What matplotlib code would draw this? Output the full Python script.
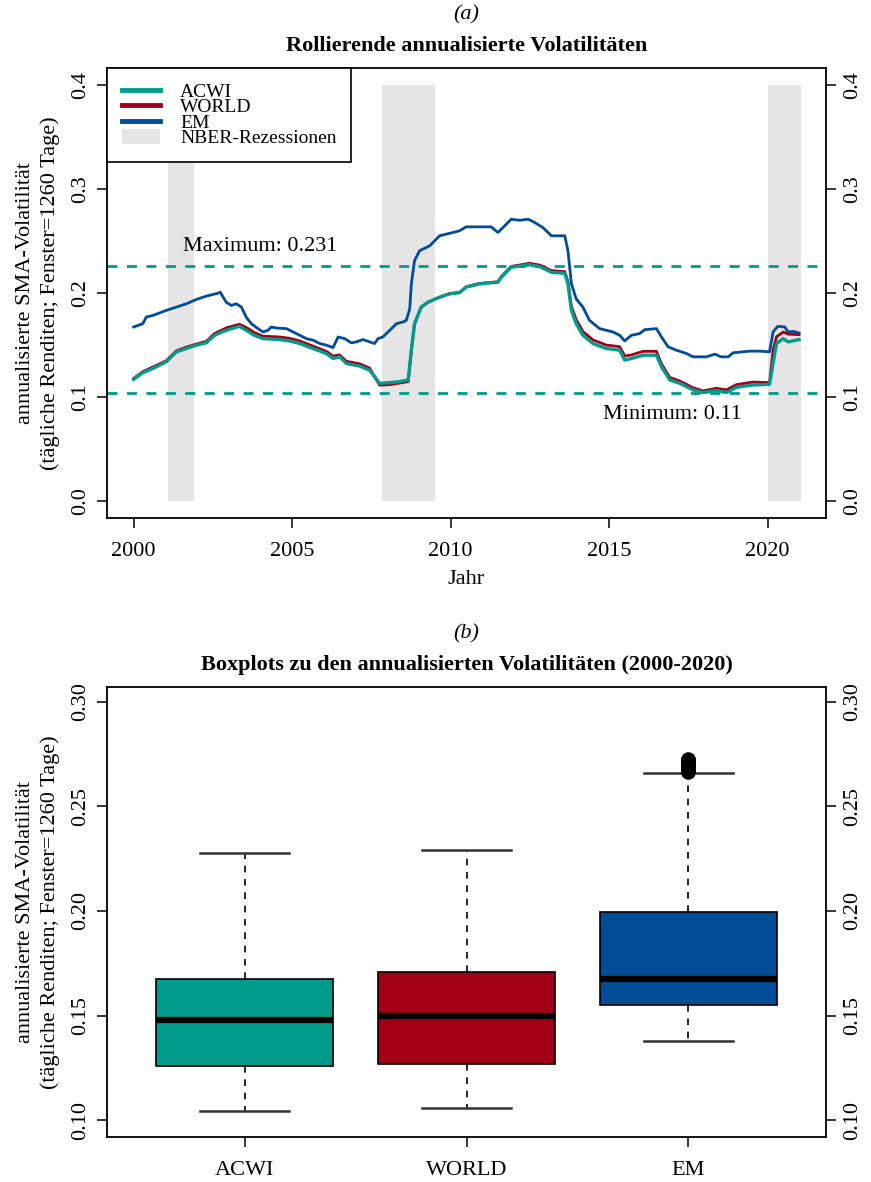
import numpy as np
import matplotlib
matplotlib.use("Agg")
import matplotlib.pyplot as plt
from matplotlib.lines import Line2D
from matplotlib.patches import Patch

plt.rcParams['font.family'] = ['Liberation Serif', 'DejaVu Serif']

# ---------------- data ----------------
EM_YEARS = [2000.0, 2000.29, 2000.40, 2000.61, 2001.03, 2001.35, 2001.66, 2001.98, 2002.29, 2002.66,
            2002.73, 2002.92, 2003.08, 2003.24, 2003.40, 2003.55, 2003.71, 2003.92, 2004.08, 2004.24,
            2004.34, 2004.50, 2004.82, 2005.03, 2005.24, 2005.45, 2005.66, 2005.87, 2006.08, 2006.29,
            2006.45, 2006.66, 2006.87, 2007.03, 2007.23, 2007.44, 2007.60, 2007.71, 2007.86, 2008.08,
            2008.29, 2008.50, 2008.60, 2008.71, 2008.76, 2008.86, 2009.02, 2009.34, 2009.65, 2010.07,
            2010.28, 2010.49, 2011.28, 2011.49, 2011.65, 2011.91, 2012.18, 2012.44, 2012.60, 2012.91,
            2013.18, 2013.60, 2013.70, 2013.81, 2013.96, 2014.17, 2014.38, 2014.70, 2015.12, 2015.33,
            2015.49, 2015.70, 2015.96, 2016.12, 2016.49, 2016.65, 2016.86, 2017.12, 2017.44, 2017.65,
            2018.07, 2018.33, 2018.54, 2018.75, 2018.91, 2019.43, 2019.75, 2020.06, 2020.17, 2020.32,
            2020.54, 2020.64, 2020.80, 2020.99]
EM = [0.1674, 0.1706, 0.1769, 0.1785, 0.1833, 0.1865, 0.1896, 0.1938, 0.1970, 0.1998,
      0.2008, 0.1912, 0.1881, 0.1896, 0.1865, 0.1769, 0.1706, 0.1658, 0.1626, 0.1642,
      0.1674, 0.1664, 0.1658, 0.1626, 0.1594, 0.1562, 0.1547, 0.1515, 0.1499, 0.1476,
      0.1578, 0.1562, 0.1521, 0.1531, 0.1553, 0.1531, 0.1515, 0.1562, 0.1578, 0.1642,
      0.1706, 0.1722, 0.1737, 0.1849, 0.2088, 0.2310, 0.2406, 0.2453, 0.2549, 0.2581,
      0.2597, 0.2635, 0.2635, 0.2581, 0.2628, 0.2708, 0.2698, 0.2708, 0.2686, 0.2628,
      0.2549, 0.2549, 0.2406, 0.2088, 0.1944, 0.1865, 0.1737, 0.1658, 0.1626, 0.1594,
      0.1540, 0.1594, 0.1610, 0.1648, 0.1658, 0.1578, 0.1483, 0.1451, 0.1419, 0.1387,
      0.1387, 0.1413, 0.1387, 0.1387, 0.1426, 0.1442, 0.1442, 0.1435, 0.1626, 0.1680,
      0.1674, 0.1626, 0.1632, 0.1616]

DM_YEARS = [2000.0, 2000.29, 2000.61, 2001.03, 2001.35, 2001.66, 2001.98, 2002.29, 2002.55, 2002.92,
            2003.34, 2003.55, 2003.81, 2004.08, 2004.60, 2004.92, 2005.24, 2005.66, 2006.08, 2006.29,
            2006.50, 2006.71, 2007.13, 2007.44, 2007.76, 2008.08, 2008.39, 2008.66, 2008.76, 2008.86,
            2009.07, 2009.28, 2009.65, 2009.97, 2010.28, 2010.49, 2010.91, 2011.49, 2011.60, 2011.91,
            2012.49, 2012.81, 2013.18, 2013.60, 2013.70, 2013.81, 2013.96, 2014.17, 2014.49, 2014.91,
            2015.33, 2015.49, 2015.70, 2016.07, 2016.49, 2016.65, 2016.91, 2017.23, 2017.65, 2017.96,
            2018.38, 2018.70, 2019.01, 2019.54, 2020.06, 2020.17, 2020.28, 2020.49, 2020.64, 2020.99]
ACWI = [0.1171, 0.1235, 0.1276, 0.1340, 0.1435, 0.1467, 0.1499, 0.1521, 0.1594, 0.1642,
        0.1680, 0.1642, 0.1594, 0.1562, 0.1553, 0.1540, 0.1515, 0.1467, 0.1419, 0.1371,
        0.1387, 0.1324, 0.1298, 0.1260, 0.1133, 0.1139, 0.1149, 0.1165, 0.1451, 0.1706,
        0.1865, 0.1912, 0.1960, 0.1992, 0.2003, 0.2056, 0.2088, 0.2104, 0.2151, 0.2247,
        0.2272, 0.2253, 0.2199, 0.2189, 0.2088, 0.1833, 0.1706, 0.1594, 0.1515, 0.1467,
        0.1451, 0.1356, 0.1371, 0.1403, 0.1403, 0.1292, 0.1165, 0.1133, 0.1069, 0.1044,
        0.1063, 0.1044, 0.1095, 0.1117, 0.1123, 0.1324, 0.1515, 0.1562, 0.1531, 0.1553]
WORLD = [0.1180, 0.1245, 0.1290, 0.1350, 0.1445, 0.1480, 0.1510, 0.1535, 0.1610, 0.1665,
         0.1700, 0.1670, 0.1620, 0.1585, 0.1578, 0.1565, 0.1540, 0.1490, 0.1440, 0.1395,
         0.1405, 0.1345, 0.1320, 0.1280, 0.1115, 0.1120, 0.1135, 0.1150, 0.1440, 0.1700,
         0.1860, 0.1910, 0.1960, 0.1995, 0.2005, 0.2060, 0.2092, 0.2108, 0.2158, 0.2255,
         0.2285, 0.2268, 0.2215, 0.2205, 0.2110, 0.1870, 0.1745, 0.1630, 0.1550, 0.1500,
         0.1485, 0.1395, 0.1405, 0.1440, 0.1440, 0.1320, 0.1190, 0.1155, 0.1090, 0.1060,
         0.1085, 0.1070, 0.1120, 0.1145, 0.1140, 0.1450, 0.1580, 0.1625, 0.1605, 0.1600]

RECESSIONS = [(2001.08, 2001.92), (2007.83, 2009.52), (2020.00, 2021.05)]
MAX_LINE = 0.2264
MIN_LINE = 0.1036
MAX_LABEL = "Maximum: 0.231"
MIN_LABEL = "Minimum: 0.11"

BOX_NAMES = ["ACWI", "WORLD", "EM"]
BOX_WHISLO = [0.1043, 0.1057, 0.1380]
BOX_Q1 = [0.1258, 0.1271, 0.1553]
BOX_MED = [0.1477, 0.1500, 0.1676]
BOX_Q3 = [0.1676, 0.1706, 0.1996]
BOX_WHISHI = [0.2276, 0.2292, 0.2659]
EM_OUTLIERS = [0.2663, 0.2667, 0.2671, 0.2675, 0.2679, 0.2683, 0.2687, 0.2691, 0.2695,
               0.2699, 0.2703, 0.2707, 0.2711, 0.2715, 0.2719, 0.2723, 0.2727]

COLORS = {"ACWI": "#009B8A", "WORLD": "#A20016", "EM": "#004C97"}
GRAY = "#E5E5E5"

# ---------------- figure ----------------
W, H = 871, 1182
fig = plt.figure(figsize=(W / 100, H / 100), dpi=100)
ax1 = fig.add_axes([107 / W, 1 - 518 / H, (826 - 107) / W, (518 - 68) / H])
ax2 = fig.add_axes([107 / W, 1 - 1137 / H, (826 - 107) / W, (1137 - 687) / H])

FS = 16
YLAB = "annualisierte SMA-Volatilität\n(tägliche Renditen; Fenster=1260 Tage)"
for ax in (ax1, ax2):
    for s in ax.spines.values():
        s.set_linewidth(1.3)
    ax.tick_params(axis='both', direction='out', length=7, width=1.1,
                   labelsize=FS, right=True, labelright=True)
    ax.tick_params(axis='y', labelrotation=90, pad=5)
    ax.tick_params(axis='x', pad=10)

# ---- panel (a) ----
for (a, b) in RECESSIONS:
    ax1.fill_between([a, b], 0, 0.4, color=GRAY, lw=0, zorder=0)
ax1.plot(EM_YEARS, EM, color=COLORS["EM"], lw=2.0, zorder=3)
ax1.plot(DM_YEARS, WORLD, color=COLORS["WORLD"], lw=2.0, zorder=3)
ax1.plot(DM_YEARS, ACWI, color=COLORS["ACWI"], lw=2.4, zorder=4)
for yv in (MAX_LINE, MIN_LINE):
    ax1.axhline(yv, color=COLORS["ACWI"], lw=2.0, dashes=(3.6, 3.4), zorder=2)
ax1.text(2004.0, 0.245, MAX_LABEL, ha='center', va='center', fontsize=FS)
ax1.text(2017.0, 0.083, MIN_LABEL, ha='center', va='center', fontsize=FS)

ax1.set_xlim(1999.16, 2021.84)
ax1.set_ylim(-0.016, 0.416)
ax1.set_xticks([2000, 2005, 2010, 2015, 2020])
ax1.set_yticks([0.0, 0.1, 0.2, 0.3, 0.4])
ax1.set_yticklabels(["0.0", "0.1", "0.2", "0.3", "0.4"], rotation=90, va='center')
ax1.set_xlabel("Jahr", fontsize=FS, labelpad=7)
ax1.set_ylabel(YLAB, fontsize=FS, labelpad=8, linespacing=1.35)
ax1.set_title("Rollierende annualisierte Volatilitäten", fontsize=FS, fontweight='bold', pad=12)
fig.text(466 / W, 1 - 15 / H, "(a)", ha='center', va='center', fontsize=FS, style='italic')

handles = [Line2D([], [], color=COLORS["ACWI"], lw=3.5),
           Line2D([], [], color=COLORS["WORLD"], lw=3.5),
           Line2D([], [], color=COLORS["EM"], lw=3.5),
           Patch(facecolor=GRAY, edgecolor='none')]
leg = ax1.legend(handles, ["ACWI", "WORLD", "EM", "NBER-Rezessionen"], loc='upper left',
                 bbox_to_anchor=(0, 1), borderaxespad=0, fontsize=14, frameon=True,
                 fancybox=False, edgecolor='black', framealpha=1, labelspacing=-0.14,
                 handlelength=2.0, handleheight=0.8, handletextpad=1.0, borderpad=0.75)
leg.get_frame().set_linewidth(1.2)

# ---- panel (b) ----
stats = []
for i, name in enumerate(BOX_NAMES):
    stats.append(dict(label=name, med=BOX_MED[i], q1=BOX_Q1[i], q3=BOX_Q3[i],
                      whislo=BOX_WHISLO[i], whishi=BOX_WHISHI[i],
                      fliers=EM_OUTLIERS if name == "EM" else []))
bp = ax2.bxp(stats, positions=[1, 2, 3], widths=0.8, patch_artist=True, showfliers=True,
             boxprops=dict(edgecolor='black', linewidth=1.2),
             medianprops=dict(color='black', linewidth=4.5),
             whiskerprops=dict(color='black', linewidth=1.2, linestyle=(0, (4, 4))),
             capprops=dict(color='#333333', linewidth=1.8),
             capwidths=0.4,
             flierprops=dict(marker='o', markerfacecolor='none', markeredgecolor='black',
                             markersize=9, markeredgewidth=1.5))
for patch, name in zip(bp['boxes'], BOX_NAMES):
    patch.set_facecolor(COLORS[name])

ax2.set_xlim(0.38, 3.62)
ax2.set_ylim(0.092, 0.307)
ax2.set_yticks([0.10, 0.15, 0.20, 0.25, 0.30])
ax2.set_yticklabels(["0.10", "0.15", "0.20", "0.25", "0.30"], rotation=90, va='center')
ax2.set_xticks([1, 2, 3])
ax2.set_xticklabels(BOX_NAMES)
ax2.set_ylabel(YLAB, fontsize=FS, labelpad=8, linespacing=1.35)
ax2.set_title("Boxplots zu den annualisierten Volatilitäten (2000-2020)", fontsize=FS,
              fontweight='bold', pad=12)
fig.text(466 / W, 1 - 634 / H, "(b)", ha='center', va='center', fontsize=FS, style='italic')

fig.savefig("out.png", dpi=100)
